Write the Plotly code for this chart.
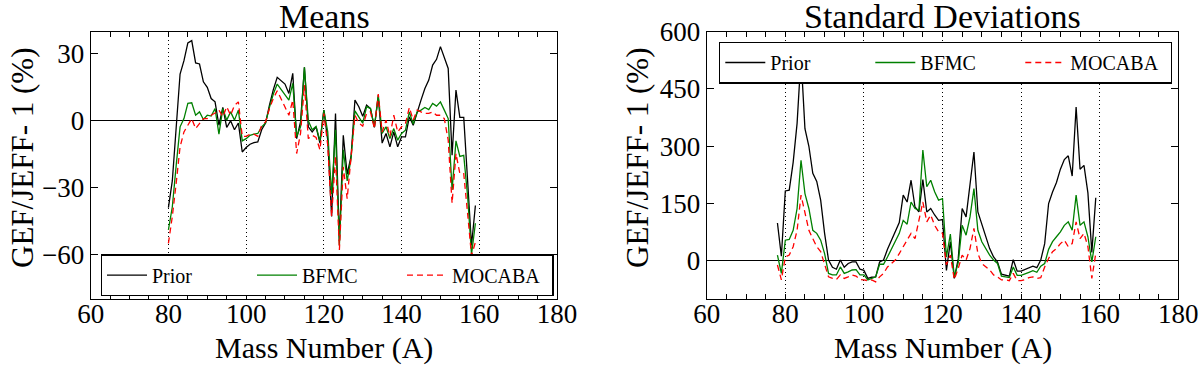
import plotly.graph_objects as go

# ---------------- data ----------------
mass_means = list(range(80, 160))
prior_mean = [-39, -27, -3, 21, 27, 35, 36, 26, 25.5, 17.5,
              15, 10, 8.5, -2, 6, -3, 0, -4, -1, -14,
              -12, -10.5, -9.8, -9.5, -4, -1, 7, 14, 19.5, 18,
              16.5, 12.3, 21.3, -8, -0.5, 24, -2.7, -5, -2.7, -10,
              4.8, -8.7, -43, 3.3, -54, -6.5, -24, -16, 9.3, 6.3,
              2, 7, 5.5, -3, 10.8, -10, -5.7, -11.7, -5, -11.7,
              -7.2, -7.2, 1.8, -2, 4, 9.3, 14.5, 18.3, 25, 27.6,
              33.3, 28, 23.5, -15.5, 13.8, 1.5, 1.5, -27, -56, -38]
bfmc_mean = [-49, -38.7, -20, -2.7, 1, 7.8, 8.1, 2.5, 4, 0.6,
             2.5, 2.1, 5.5, -6, 5.5, 0.3, 4, 0.3, 4.8, -9,
             -8, -6.5, -6, -5.7, -2.7, -1, 6, 12, 16.5, 14,
             11.5, 9.3, 16.8, -7, -2.7, 24, 0, -4, -2.5, -9,
             4.8, -5, -33, -4, -56, -13, -27, -17, 4.5, 1.5,
             -1, 6.3, 5.5, -2.7, 11.5, -5.7, -2.7, -8, -3.5, -8.7,
             -5.7, -4.2, 4, -1.5, 4, 4.8, 6, 5, 7.8, 6.6,
             8.5, 4.8, 1, -31, -9, -16, -15.5, -34, -60, -46]
mocaba_mean = [-55, -43, -28, -11.7, -5, -2, 1, -3.5, -1.2, 1,
               1, 2.5, 3.5, 4.8, 1.8, 6.3, 2.5, 7, 8.5, -7,
               -7, -6, -6, -7, -2, -0.5, 5.5, 10, 13.5, 10,
               6, 2.5, 9.3, -14.7, -5.7, 16, -8, -6.5, -7.5, -13,
               3.3, -11, -43, -16, -58, -20.7, -35, -16, 2.5, -1,
               -2.4, 3.3, 4, -3.5, 12, -5, 0.3, -7, 2.5, -5,
               -2.7, -1.2, 6, 0.3, 4.8, 4, 3.3, 3.3, 4, 2.5,
               2.5, 1, -8.7, -37, -14.7, -23.7, -23.7, -41.7, -60.5, -54.5]

mass_std = list(range(78, 160))
prior_std = [99, 12,
             183, 185, 258, 360, 535, 346, 300, 229, 208, 159,
             72, 2, -17, -22, 2, -17, -7, -3, -3, -22,
             -25, -46, -43, -42, -3, 2, 30, 55, 80, 100,
             172, 154, 211, 141, 128, 213, 128, 137, 120, 106,
             108, -25, 50, -46, 5, 137, 115, 194, 285, 128,
             95, 63, 32, 10, -3, -35, -37, -40, 3, -27,
             -27, -23, -18, -14, -18, 2, 45, 150, 180, 205,
             240, 265, 275, 222, 403, 240, 250, 178, 22, 165]
bfmc_std = [15, -33,
            54, 56, 80, 137, 263, 176, 137, 80, 72, 54,
            19, -33, -37, -37, -16, -33, -29, -24, -23, -37,
            -37, -50, -46, -42, -9, -9, 10, 32, 52, 72,
            106, 96, 154, 137, 133, 290, 194, 211, 181, 159,
            163, 10, 70, -42, -5, 93, 67, 115, 189, 80,
            50, 32, 15, 2, -7, -40, -42, -44, -16, -38,
            -38, -33, -30, -26, -30, -14, -7, 30, 50, 63,
            76, 93, 102, 80, 172, 93, 102, 63, -3, 63]
mocaba_std = [-11, -50,
              10, 15, 37, 80, 172, 124, 80, 58, 37, 24,
              -7, -42, -46, -49, -37, -46, -42, -37, -40, -49,
              -50, -52, -50, -55, -42, -33, -16, -7, 2, 19,
              37, 54, 72, 58, 102, 154, 102, 120, 93, 76,
              72, -10, 15, -49, -20, 15, 2, 32, 85, 19,
              -7, -16, -24, -37, -42, -50, -50, -52, -33, -52,
              -52, -49, -44, -42, -46, -44, -16, 6, 24, 32,
              45, 54, 37, 45, 102, 58, 72, 37, -46, 19]

series_names = ["Prior", "BFMC", "MOCABA"]
panel_titles = ["Means", "Standard Deviations"]
x_title = "Mass Number (A)"
y_title = "GEF/JEFF- 1 (%)"

# ---------------- style ----------------
FONT = "Liberation Serif"
W, H = 1200, 365
colors = ["#000000", "#008000", "#ff0000"]
dashes = ["solid", "solid", "6px,4px"]

fig = go.Figure()

panels = [
    (mass_means, [prior_mean, bfmc_mean, mocaba_mean], "x", "y", "legend"),
    (mass_std, [prior_std, bfmc_std, mocaba_std], "x2", "y2", "legend2"),
]
for xs, ys_list, xa, ya, lg in panels:
    for name, ys, c, d in zip(series_names, ys_list, colors, dashes):
        fig.add_trace(go.Scatter(
            x=xs, y=ys, mode="lines", name=name,
            line=dict(color=c, width=1.3, dash=d),
            xaxis=xa, yaxis=ya, legend=lg,
        ))

def px_x(p):
    return p / W

def px_y(p):
    return 1 - p / H

common_x = dict(
    range=[60, 180], dtick=20, tick0=60, automargin=False,
    showline=True, linecolor="black", linewidth=1.3, mirror="ticks",
    ticks="inside", ticklen=5, tickcolor="black", tickwidth=1,
    showgrid=True, gridcolor="black", gridwidth=1, griddash="1px,3px",
    zeroline=False, ticklabelstandoff=-10,
    minor=dict(dtick=5, tick0=60, ticks="inside", ticklen=5,
               tickcolor="black", tickwidth=1, showgrid=False),
    tickfont=dict(family=FONT, size=27, color="black"),
)
common_y = dict(
    automargin=False,
    showline=True, linecolor="black", linewidth=1.3, mirror="ticks",
    ticks="inside", ticklen=7, tickcolor="black", tickwidth=1,
    showgrid=False, zeroline=True, zerolinecolor="black", zerolinewidth=1.3,
    tickfont=dict(family=FONT, size=27, color="black"),
)

yd = [px_y(299), px_y(31.7)]
legend_common = dict(
    xanchor="left", yanchor="top",
    orientation="h", bgcolor="white", bordercolor="black", borderwidth=1.3,
    font=dict(family=FONT, size=20, color="black"),
    entrywidth=95, itemwidth=40,
)
fig.update_layout(
    width=W, height=H,
    margin=dict(l=0, r=0, t=0, b=0, autoexpand=False),
    paper_bgcolor="white", plot_bgcolor="white",
    font=dict(family=FONT, color="black"),
    xaxis=dict(domain=[px_x(90.7), px_x(557)], anchor="y", **common_x),
    yaxis=dict(domain=yd, anchor="x", range=[-80, 40], dtick=30, tick0=0, **common_y),
    xaxis2=dict(domain=[px_x(706.7), px_x(1178.3)], anchor="y2", **common_x),
    yaxis2=dict(domain=yd, anchor="x2", range=[-100, 600], dtick=150, tick0=0, **common_y),
    legend=dict(x=px_x(100.7), y=px_y(254.3), **legend_common),
    legend2=dict(x=px_x(719), y=px_y(41.7), **legend_common),
    showlegend=True,
)

annotations = []
for title, cx in zip(panel_titles, [324, 942.5]):
    annotations.append(dict(text=title, x=px_x(cx), y=px_y(16), xref="paper", yref="paper",
                            xanchor="center", yanchor="middle", showarrow=False,
                            font=dict(family=FONT, size=34, color="black")))
    annotations.append(dict(text=x_title, x=px_x(cx), y=px_y(348), xref="paper", yref="paper",
                            xanchor="center", yanchor="middle", showarrow=False,
                            font=dict(family=FONT, size=30, color="black")))
for cx in [22, 637]:
    annotations.append(dict(text=y_title, x=px_x(cx), y=px_y(158), xref="paper", yref="paper",
                            xanchor="center", yanchor="middle", showarrow=False, textangle=-90,
                            font=dict(family=FONT, size=31, color="black")))
fig.update_layout(annotations=annotations)

# remove the default page margin so the figure sits at the window's top-left corner
fig.write_html("out.html", config={"displayModeBar": False},
               post_script="document.body.style.margin='0px';")
